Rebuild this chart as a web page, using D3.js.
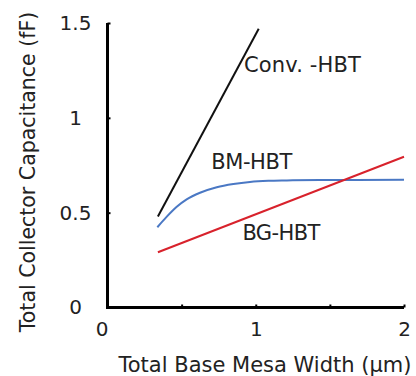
<!DOCTYPE html>
<html>
<head>
<meta charset="utf-8">
<script src="https://cdn.jsdelivr.net/npm/d3@7"></script>
<style>
  html, body { margin: 0; padding: 0; background: #fff; }
  svg { display: block; }
  text { font-family: "DejaVu Sans", Verdana, sans-serif; fill: #222; }
</style>
</head>
<body>
<svg id="chart" width="416" height="376"></svg>
<script>
// Collector capacitance vs. base mesa width for three HBT structures
const convX = [0.34, 1.02];
const convY = [0.48, 1.47];

const bmX = [0.336, 0.40, 0.467, 0.534, 0.624, 0.737, 0.849, 0.961, 1.085, 1.21, 1.43, 2.0];
const bmY = [0.423, 0.479, 0.531, 0.570, 0.605, 0.634, 0.651, 0.662, 0.668, 0.670, 0.672, 0.673];

const bgX = [0.34, 2.0];
const bgY = [0.291, 0.795];

const xTicks = [0, 0.5, 1, 1.5, 2];
const xTickLabels = ["0", "", "1", "", "2"];
const yTicks = [0, 0.5, 1, 1.5];
const yTickLabels = ["0", "0.5", "1", "1.5"];

const seriesNames = ["Conv. -HBT", "BM-HBT", "BG-HBT"];
const seriesColors = ["#111111", "#4a78c4", "#d8222c"];

const W = 416, H = 376;
const margin = { top: 23, right: 12, bottom: 68.5, left: 107.5 };
const svg = d3.select("#chart");

const x = d3.scaleLinear().domain([0, 2]).range([margin.left, W - margin.right]);
const y = d3.scaleLinear().domain([0, 1.5]).range([H - margin.bottom, margin.top]);

// axes: heavy lines, short inward ticks
const xAxis = svg.append("g")
  .attr("transform", `translate(0,${y(0)})`)
  .call(d3.axisBottom(x).tickValues(xTicks).tickSize(-3).tickPadding(14)
    .tickFormat((d, i) => xTickLabels[i]));
const yAxis = svg.append("g")
  .attr("transform", `translate(${x(0)},0)`)
  .call(d3.axisLeft(y).tickValues(yTicks).tickSize(-3).tickPadding(32)
    .tickFormat((d, i) => yTickLabels[i]));

[xAxis, yAxis].forEach(g => {
  g.select(".domain").attr("stroke", "#000").attr("stroke-width", 3);
  g.selectAll(".tick line").attr("stroke", "#000").attr("stroke-width", 2);
  g.selectAll(".tick text").attr("font-size", 20).attr("fill", "#222")
    .attr("font-family", "DejaVu Sans, Verdana, sans-serif");
});
xAxis.select(".domain").attr("d", `M${x(0) - 1.5},0H${x(2)}`);
yAxis.select(".domain").attr("d", `M0,${y(1.5)}V${y(0) + 1.5}`);
yAxis.selectAll(".tick text").attr("text-anchor", "middle");
xAxis.selectAll(".tick text").filter(d => d === 0).attr("dx", -6);

// series lines
const line = d3.line().x(d => x(d[0])).y(d => y(d[1]));
const series = [
  { xs: convX, ys: convY, curve: d3.curveLinear },
  { xs: bmX, ys: bmY, curve: d3.curveMonotoneX },
  { xs: bgX, ys: bgY, curve: d3.curveLinear }
];
series.forEach((s, i) => {
  svg.append("path")
    .datum(s.xs.map((v, j) => [v, s.ys[j]]))
    .attr("fill", "none")
    .attr("stroke", seriesColors[i])
    .attr("stroke-width", 2)
    .attr("d", line.curve(s.curve));
});

// series labels
const labelPos = [[0.92, 1.24], [0.70, 0.73], [0.91, 0.355]];
seriesNames.forEach((n, i) => {
  svg.append("text")
    .attr("x", x(labelPos[i][0]))
    .attr("y", y(labelPos[i][1]))
    .attr("font-size", 21)
    .attr("textLength", [117, 81, 78][i])
    .text(n);
});

// axis titles
svg.append("text")
  .attr("x", 265).attr("y", 372)
  .attr("text-anchor", "middle")
  .attr("font-size", 21)
  .text("Total Base Mesa Width (μm)");
svg.append("text")
  .attr("transform", "translate(35,172) rotate(-90)")
  .attr("text-anchor", "middle")
  .attr("font-size", 20.5)
  .text("Total Collector Capacitance (fF)");
</script>
</body>
</html>
